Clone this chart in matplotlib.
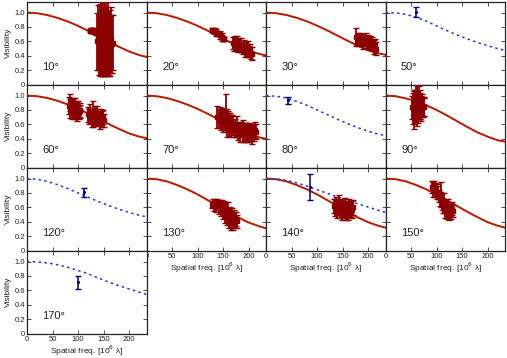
import matplotlib
matplotlib.use("Agg")
import matplotlib.pyplot as plt

plt.rcParams['font.family'] = ['Liberation Sans', 'DejaVu Sans']

# ---------------- data ----------------
angles = [10, 20, 30, 50, 60, 70, 80, 90, 120, 130, 140, 150, 170]
angle_labels = ["10°", "20°", "30°", "50°", "60°", "70°", "80°", "90°",
                "120°", "130°", "140°", "150°", "170°"]

x_ticks = [0, 50, 100, 150, 200]
y_ticks = [0, 0.2, 0.4, 0.6, 0.8, 1.0]
y_ticklabels = ["0", "0.2", "0.4", "0.6", "0.8", "1.0"]

# model curve sampling (spatial frequency, 10^6 lambda)
model_x = [0, 20, 40, 60, 80, 100, 120, 140, 160, 180, 200, 220, 234]

# red/green (best-fit) model curves
model_10 = [1.0, 0.99, 0.965, 0.925, 0.875, 0.815, 0.745, 0.67, 0.595, 0.525, 0.46, 0.41, 0.385]
model_20 = [1.0, 0.99, 0.965, 0.925, 0.875, 0.815, 0.748, 0.675, 0.602, 0.535, 0.472, 0.428, 0.405]
model_30 = [1.0, 0.99, 0.966, 0.927, 0.878, 0.818, 0.752, 0.68, 0.608, 0.54, 0.478, 0.435, 0.415]
model_60 = [1.0, 0.99, 0.966, 0.926, 0.876, 0.817, 0.75, 0.678, 0.605, 0.537, 0.475, 0.43, 0.41]
model_70 = [1.0, 0.99, 0.965, 0.925, 0.875, 0.815, 0.747, 0.673, 0.6, 0.53, 0.468, 0.422, 0.40]
model_90 = [1.0, 0.99, 0.96, 0.92, 0.865, 0.80, 0.725, 0.645, 0.565, 0.49, 0.43, 0.38, 0.36]
model_130 = [1.0, 0.99, 0.96, 0.91, 0.85, 0.78, 0.70, 0.62, 0.54, 0.46, 0.39, 0.34, 0.31]
model_140 = [1.0, 0.99, 0.96, 0.91, 0.85, 0.78, 0.70, 0.62, 0.54, 0.46, 0.395, 0.345, 0.32]
model_150 = [1.0, 0.99, 0.96, 0.91, 0.85, 0.78, 0.70, 0.62, 0.54, 0.465, 0.395, 0.345, 0.32]

# blue (single-baseline) model curves
blue_50 = [1.0, 0.995, 0.975, 0.935, 0.88, 0.815, 0.75, 0.69, 0.635, 0.585, 0.54, 0.50, 0.475]
blue_80 = [1.0, 0.99, 0.965, 0.92, 0.865, 0.80, 0.735, 0.67, 0.61, 0.555, 0.505, 0.465, 0.445]
blue_120 = [1.0, 0.99, 0.96, 0.915, 0.86, 0.80, 0.74, 0.68, 0.625, 0.575, 0.53, 0.49, 0.47]
blue_140 = [1.0, 0.995, 0.975, 0.94, 0.895, 0.845, 0.795, 0.745, 0.695, 0.65, 0.605, 0.56, 0.53]
blue_170 = [1.0, 0.995, 0.98, 0.955, 0.92, 0.875, 0.83, 0.77, 0.715, 0.665, 0.62, 0.575, 0.545]

# measured visibilities (red points)
d10_x = [123, 124.5, 126, 127.5, 129, 130.5, 132, 133.5, 135, 136.5,
         138, 139.5, 141, 142.5, 144, 145.5, 147, 148.5, 150, 151.5, 153,
         154.5, 156, 157.5, 159, 160.5, 162, 163.5, 165, 166.5, 168]
d10_y = [0.75, 0.76, 0.74, 0.76, 0.75, 0.73, 0.74, 0.75, 0.72, 0.73,
         0.60, 0.66, 0.55, 0.62, 0.70, 0.58, 0.64, 0.52, 0.68, 0.60, 0.56,
         0.66, 0.62, 0.50, 0.64, 0.58, 0.60, 0.54, 0.62, 0.56, 0.58]
d10_e = [0.02, 0.025, 0.03, 0.02, 0.03, 0.025, 0.02, 0.03, 0.025, 0.03,
         0.40, 0.45, 0.42, 0.50, 0.48, 0.46, 0.52, 0.40, 0.50, 0.48, 0.44,
         0.52, 0.46, 0.38, 0.50, 0.46, 0.44, 0.42, 0.46, 0.40, 0.38]

d20_x = [129, 131, 133, 135, 137, 139, 141, 143, 145, 147, 149, 151,
         170, 172, 174, 176, 178, 180, 182, 184, 186, 188, 190, 192, 194,
         196, 198, 200, 202, 204, 206]
d20_y = [0.76, 0.75, 0.74, 0.74, 0.72, 0.71, 0.70, 0.69, 0.67, 0.66, 0.64, 0.63,
         0.58, 0.56, 0.60, 0.55, 0.57, 0.53, 0.56, 0.52, 0.55, 0.50, 0.53, 0.49, 0.51,
         0.47, 0.50, 0.46, 0.48, 0.44, 0.43]
d20_e = [0.03, 0.04, 0.03, 0.04, 0.05, 0.04, 0.03, 0.05, 0.04, 0.05, 0.04, 0.03,
         0.08, 0.10, 0.07, 0.09, 0.10, 0.08, 0.09, 0.07, 0.10, 0.08, 0.09, 0.10, 0.08,
         0.09, 0.10, 0.08, 0.09, 0.08, 0.09]

d30_x = [176, 178, 180, 182, 184, 186, 188, 190, 192, 194, 196, 198, 200, 202,
         204, 206, 208, 210, 212, 214, 216]
d30_y = [0.66, 0.62, 0.64, 0.60, 0.65, 0.61, 0.63, 0.58, 0.62, 0.60, 0.64, 0.57, 0.60, 0.56,
         0.60, 0.55, 0.58, 0.54, 0.52, 0.55, 0.50]
d30_e = [0.12, 0.07, 0.08, 0.07, 0.06, 0.08, 0.07, 0.09, 0.06, 0.07, 0.08, 0.06, 0.09, 0.08,
         0.07, 0.06, 0.08, 0.07, 0.10, 0.08, 0.09]

d60_x = [82, 83.5, 85, 86.5, 88, 89.5, 91, 92.5, 94, 95.5, 97, 98.5, 100, 101.5, 103, 104.5,
         120, 122, 124, 126, 128, 130, 132, 134, 136, 138, 140, 142, 144, 146, 148, 150]
d60_y = [0.86, 0.82, 0.90, 0.84, 0.80, 0.86, 0.82, 0.78, 0.85, 0.80, 0.83, 0.77, 0.81, 0.76, 0.80, 0.78,
         0.74, 0.71, 0.76, 0.72, 0.69, 0.75, 0.70, 0.73, 0.68, 0.72, 0.70, 0.66, 0.71, 0.67, 0.70, 0.66]
d60_e = [0.12, 0.13, 0.12, 0.10, 0.12, 0.11, 0.13, 0.10, 0.12, 0.11, 0.10, 0.12, 0.11, 0.09, 0.10, 0.09,
         0.10, 0.11, 0.12, 0.10, 0.12, 0.18, 0.11, 0.12, 0.10, 0.13, 0.11, 0.12, 0.10, 0.11, 0.10, 0.09]

d70_x = [139, 141, 143, 145, 147, 149, 151, 153, 155, 157, 159, 161, 163, 165, 167, 169,
         174, 176, 178, 180, 182, 184, 186, 188, 190, 192, 194, 196, 198, 200, 202,
         204, 206, 208, 210, 212, 214]
d70_y = [0.70, 0.68, 0.73, 0.66, 0.71, 0.65, 0.69, 0.66, 0.76, 0.62, 0.65, 0.60, 0.63, 0.58, 0.61, 0.59,
         0.55, 0.52, 0.57, 0.50, 0.54, 0.49, 0.53, 0.51, 0.47, 0.52, 0.49, 0.51, 0.47, 0.52, 0.48,
         0.50, 0.46, 0.51, 0.49, 0.52, 0.50]
d70_e = [0.15, 0.13, 0.11, 0.14, 0.12, 0.15, 0.13, 0.14, 0.26, 0.20, 0.14, 0.16, 0.13, 0.15, 0.12, 0.13,
         0.12, 0.10, 0.14, 0.12, 0.10, 0.13, 0.11, 0.15, 0.12, 0.10, 0.13, 0.11, 0.12, 0.10, 0.12,
         0.11, 0.13, 0.10, 0.12, 0.11, 0.10]

d90_x = [52, 53.5, 55, 56.5, 58, 59.5, 61, 62.5, 64, 65.5, 67, 68.5, 70, 71.5, 73, 74.5, 76]
d90_y = [0.84, 0.82, 0.88, 0.80, 0.86, 0.90, 0.78, 0.88, 0.84, 0.92, 0.86, 0.88, 0.82, 0.86, 0.84, 0.85, 0.84]
d90_e = [0.16, 0.22, 0.20, 0.26, 0.22, 0.24, 0.20, 0.26, 0.22, 0.21, 0.18, 0.20, 0.17, 0.16, 0.14, 0.13, 0.12]

d130_x = [129, 131, 133, 135, 137, 139, 141, 143, 145, 147, 149, 151, 153, 155, 157, 159,
          161, 163, 165, 167, 169, 171, 173, 175, 177]
d130_y = [0.64, 0.66, 0.62, 0.66, 0.61, 0.65, 0.60, 0.63, 0.58, 0.62, 0.55, 0.60, 0.50, 0.58, 0.46, 0.55,
          0.44, 0.50, 0.42, 0.48, 0.40, 0.46, 0.42, 0.44, 0.41]
d130_e = [0.05, 0.06, 0.07, 0.05, 0.08, 0.06, 0.09, 0.07, 0.10, 0.08, 0.11, 0.09, 0.12, 0.10, 0.11, 0.12,
          0.12, 0.10, 0.13, 0.11, 0.12, 0.10, 0.11, 0.10, 0.09]

d140_x = [134, 136, 138, 140, 142, 144, 146, 148, 150, 152, 154, 156, 158, 160, 162, 164, 166, 168, 170]
d140_y = [0.62, 0.60, 0.64, 0.58, 0.63, 0.57, 0.61, 0.55, 0.60, 0.56, 0.59, 0.54, 0.58, 0.56, 0.60,
          0.55, 0.58, 0.57, 0.60]
d140_e = [0.10, 0.12, 0.11, 0.13, 0.14, 0.12, 0.10, 0.13, 0.12, 0.11, 0.14, 0.12, 0.11, 0.13, 0.12,
          0.10, 0.11, 0.12, 0.10]

d150_x = [91, 93, 95, 97, 99, 101, 103, 105, 107, 109, 111, 113, 115, 117, 119, 121, 123, 125,
          127, 129, 131, 133]
d150_y = [0.88, 0.85, 0.90, 0.84, 0.86, 0.82, 0.80, 0.76, 0.72, 0.78, 0.68, 0.62, 0.66, 0.58, 0.62,
          0.55, 0.60, 0.52, 0.56, 0.54, 0.58, 0.55]
d150_e = [0.08, 0.10, 0.07, 0.09, 0.08, 0.10, 0.09, 0.08, 0.10, 0.17, 0.12, 0.10, 0.14, 0.12, 0.10,
          0.11, 0.12, 0.10, 0.09, 0.10, 0.09, 0.08]

# single measured points (blue)
b50_x, b50_y, b50_e = [59], [1.01], [0.07]
b80_x, b80_y, b80_e = [44], [0.935], [0.05]
b120_x, b120_y, b120_e = [112], [0.81], [0.06]
b140_x, b140_y, b140_e = [86], [0.88], [0.18]
b170_x, b170_y, b170_e = [99], [0.71], [0.09]

# ---------------- panel setup ----------------
panels = {
    10:  dict(pos=(0, 0), red=model_10, data=(d10_x, d10_y, d10_e)),
    20:  dict(pos=(0, 1), red=model_20, data=(d20_x, d20_y, d20_e)),
    30:  dict(pos=(0, 2), red=model_30, data=(d30_x, d30_y, d30_e)),
    50:  dict(pos=(0, 3), blue=blue_50, bpt=(b50_x, b50_y, b50_e)),
    60:  dict(pos=(1, 0), red=model_60, data=(d60_x, d60_y, d60_e)),
    70:  dict(pos=(1, 1), red=model_70, data=(d70_x, d70_y, d70_e)),
    80:  dict(pos=(1, 2), blue=blue_80, bpt=(b80_x, b80_y, b80_e)),
    90:  dict(pos=(1, 3), red=model_90, data=(d90_x, d90_y, d90_e)),
    120: dict(pos=(2, 0), blue=blue_120, bpt=(b120_x, b120_y, b120_e)),
    130: dict(pos=(2, 1), red=model_130, data=(d130_x, d130_y, d130_e)),
    140: dict(pos=(2, 2), red=model_140, data=(d140_x, d140_y, d140_e),
              blue=blue_140, bpt=(b140_x, b140_y, b140_e)),
    150: dict(pos=(2, 3), red=model_150, data=(d150_x, d150_y, d150_e)),
    170: dict(pos=(3, 0), blue=blue_170, bpt=(b170_x, b170_y, b170_e)),
}
xlabel_panels = {130, 140, 150, 170}

W, H = 507, 358
fig = plt.figure(figsize=(W / 100, H / 100), dpi=100)

left0, colw = 27.0, 119.5
top0, rowh = 1.7, 83.0

RED = '#ff0000'
GREEN = '#007000'
DARKRED = '#8b0000'
BLUE = '#2233ee'
NAVY = '#000080'

for ang, lab in zip(angles, angle_labels):
    p = panels[ang]
    r, c = p['pos']
    l = left0 + c * colw
    t = top0 + r * rowh
    ax = fig.add_axes([l / W, 1 - (t + rowh) / H, colw / W, rowh / H])
    ax.set_xlim(0, 234)
    ax.set_ylim(0, 1.15)

    if 'red' in p:
        ax.plot(model_x, p['red'], color=RED, lw=1.4, zorder=2)
        ax.plot(model_x, p['red'], color=GREEN, lw=0.9, ls=(0, (1, 1.6)), zorder=3)
    if 'blue' in p:
        ax.plot(model_x, p['blue'], color=BLUE, lw=1.1, ls=(0, (1.6, 2.2)), zorder=4)
    if 'data' in p:
        dx, dy, de = p['data']
        ax.errorbar(dx, dy, yerr=de, fmt='s', ms=2.5, color=DARKRED, ecolor=DARKRED,
                    elinewidth=1.3, capsize=2, capthick=1.0, zorder=5)
    if 'bpt' in p:
        bx, by, be = p['bpt']
        ax.errorbar(bx, by, yerr=be, fmt='.', ms=2.5, color=NAVY, ecolor=NAVY,
                    elinewidth=1.1, capsize=2, capthick=1.0, zorder=6)

    ax.text(0.13, 0.215, lab, transform=ax.transAxes, fontsize=8,
            ha='left', va='center', color='#222222')

    ax.set_xticks(x_ticks)
    ax.set_yticks(y_ticks)
    ax.tick_params(direction='in', length=3, width=0.6, top=True, right=True,
                   labelsize=5.5, pad=1.5, colors='#333333', labelcolor='#222222')
    for s in ax.spines.values():
        s.set_linewidth(0.9)
        s.set_color('#222222')

    if c == 0:
        ax.set_yticklabels(y_ticklabels)
        ax.set_ylabel('Visibility', fontsize=6, labelpad=2, color='#222222')
    else:
        ax.set_yticklabels([])
    if ang in xlabel_panels:
        ax.set_xticklabels([str(v) for v in x_ticks])
        ax.set_xlabel('Spatial freq. [10$^6$ λ]', fontsize=6, labelpad=0.5, color='#222222')
    else:
        ax.set_xticklabels([])

fig.savefig('out.png', dpi=100)
